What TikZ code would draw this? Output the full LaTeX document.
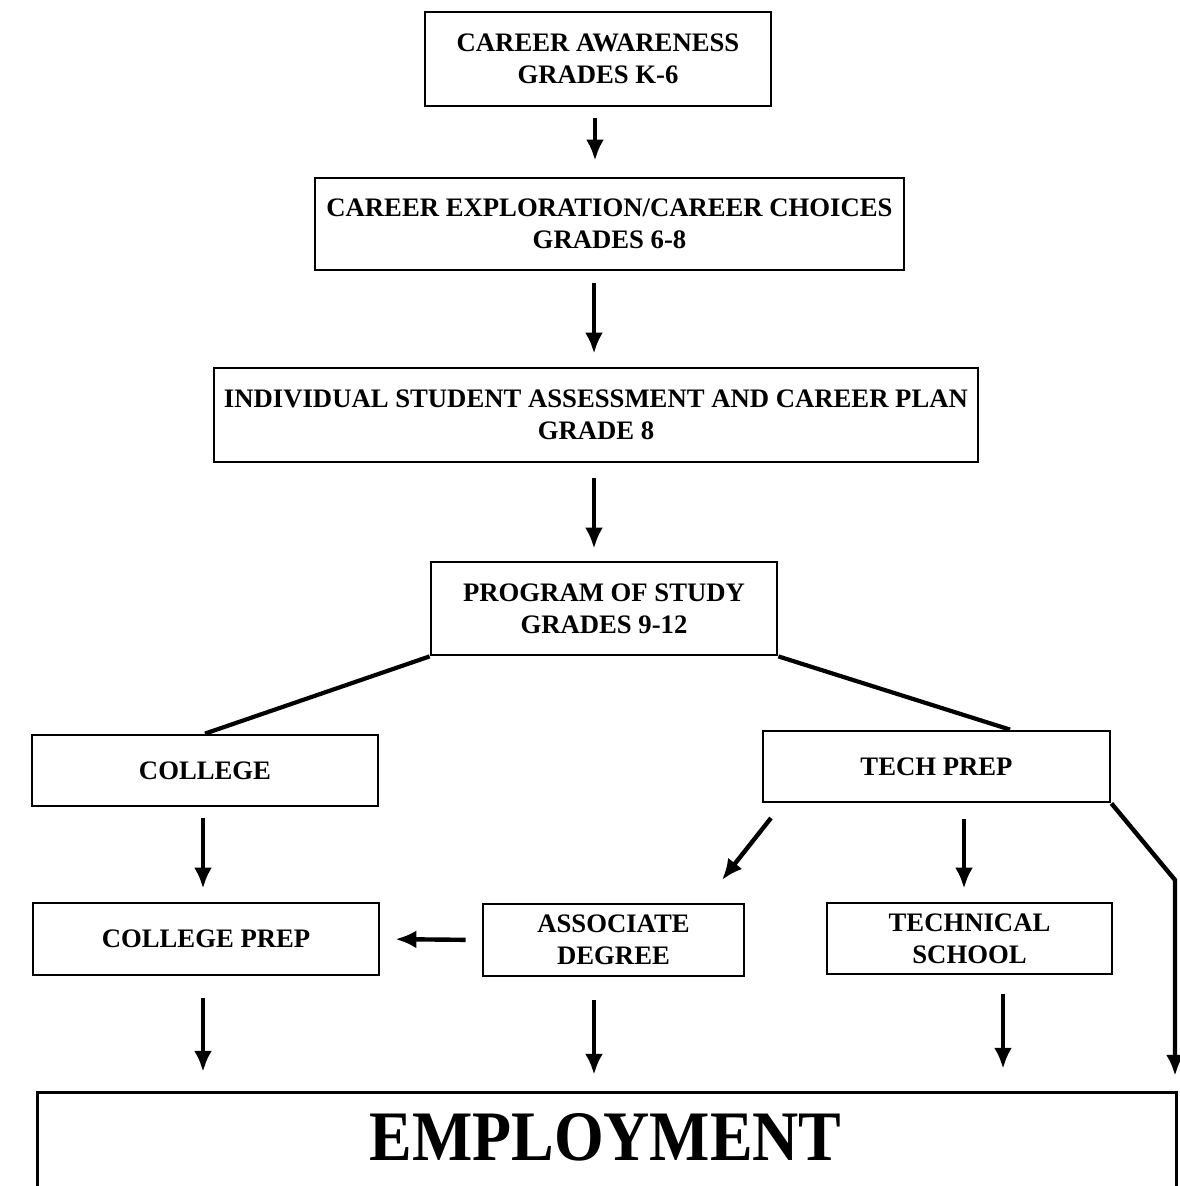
\documentclass[tikz,border=0pt]{standalone}
\usepackage{fontspec}
\setmainfont{Liberation Serif}
\usetikzlibrary{arrows.meta}
\begin{document}
\begin{tikzpicture}[x=1pt,y=-1pt,
  stagebox/.style={draw,line width=2.8pt,inner sep=0pt,align=center,
    font=\fontsize{26.7}{32}\selectfont\bfseries},
  arr/.style={line width=4.4pt,-{Latex[length=21pt,width=18pt]}},
  link/.style={line width=4.2pt}]
\useasboundingbox (0,0) rectangle (1179,1186);
\fill[white] (0,0) rectangle (1179,1186);
% boxes: centre, width, height
\node[stagebox,minimum width=346pt,minimum height=94pt] (a) at (598,59) {CAREER AWARENESS\\GRADES K-6};
\node[stagebox,minimum width=589pt,minimum height=92pt] (b) at (609.5,224) {CAREER EXPLORATION/CAREER CHOICES\\GRADES 6-8};
\node[stagebox,minimum width=764pt,minimum height=94pt] (c) at (596,415) {INDIVIDUAL STUDENT ASSESSMENT AND CAREER PLAN\\GRADE 8};
\node[stagebox,minimum width=346pt,minimum height=93pt] (d) at (604,608.5) {PROGRAM OF STUDY\\GRADES 9-12};
\node[stagebox,minimum width=346pt,minimum height=71pt] (e) at (205,770.5) {COLLEGE};
\node[stagebox,minimum width=347pt,minimum height=71pt] (f) at (936.5,766.5) {TECH PREP};
\node[stagebox,minimum width=346pt,minimum height=72pt] (g) at (206,939) {COLLEGE PREP};
\node[stagebox,minimum width=261pt,minimum height=72pt] (h) at (613.5,940) {ASSOCIATE\\DEGREE};
\node[stagebox,minimum width=285pt,minimum height=71pt] (i) at (969.5,938.5) {TECHNICAL\\SCHOOL};
% employment (open at the bottom)
\node[inner sep=0pt,minimum width=1138pt,minimum height=93pt] (j) at (607,1139.5) {};
\draw[line width=2.8pt] (j.south west) |- (j.north east) -- (j.south east);
\node[anchor=base,inner sep=0pt,xscale=0.9,font=\fontsize{71}{80}\selectfont\bfseries] (jt) at (605.5,1160) {EMPLOYMENT};
% helper x positions
\coordinate (x595) at (595,0);
\coordinate (x594) at (594,0);
\coordinate (x203) at (203,0);
\coordinate (x964) at (964,0);
\coordinate (x1003) at (1003,0);
\coordinate (x1010) at (1010,0);
\coordinate (x1175) at (1175,0);
\coordinate (t1) at (771,818);
\coordinate (t2) at (722,880);
\coordinate (bend) at (1175,880);
% main column arrows
\draw[arr,shorten <=11pt,shorten >=16pt] (a.south -| x595) -- (b.north -| x595);
\draw[arr,shorten <=12pt,shorten >=13pt] (b.south -| x594) -- (c.north -| x594);
\draw[arr,shorten <=15pt,shorten >=12pt] (c.south -| x594) -- (d.north -| x594);
% branches
\draw[link] (d.south west) -- (e.north);
\draw[link] (d.south east) -- (f.north -| x1010);
\draw[arr,shorten <=11pt,shorten >=13pt] (e.south -| x203) -- (g.north -| x203);
\draw[arr] (t1) -- (t2);
\draw[arr,shorten <=16pt,shorten >=13pt] (f.south -| x964) -- (i.north -| x964);
\draw[arr,shorten >=17pt] (f.south east) -- (bend) -- (j.north -| x1175);
\draw[arr,shorten <=16pt,shorten >=15pt] (h.west) -- (g.east);
% to employment
\draw[arr,shorten <=22pt,shorten >=21pt] (g.south -| x203) -- (j.north -| x203);
\draw[arr,shorten <=23pt,shorten >=18pt] (h.south -| x594) -- (j.north -| x594);
\draw[arr,shorten <=19pt,shorten >=24pt] (i.south -| x1003) -- (j.north -| x1003);
\end{tikzpicture}
\end{document}
